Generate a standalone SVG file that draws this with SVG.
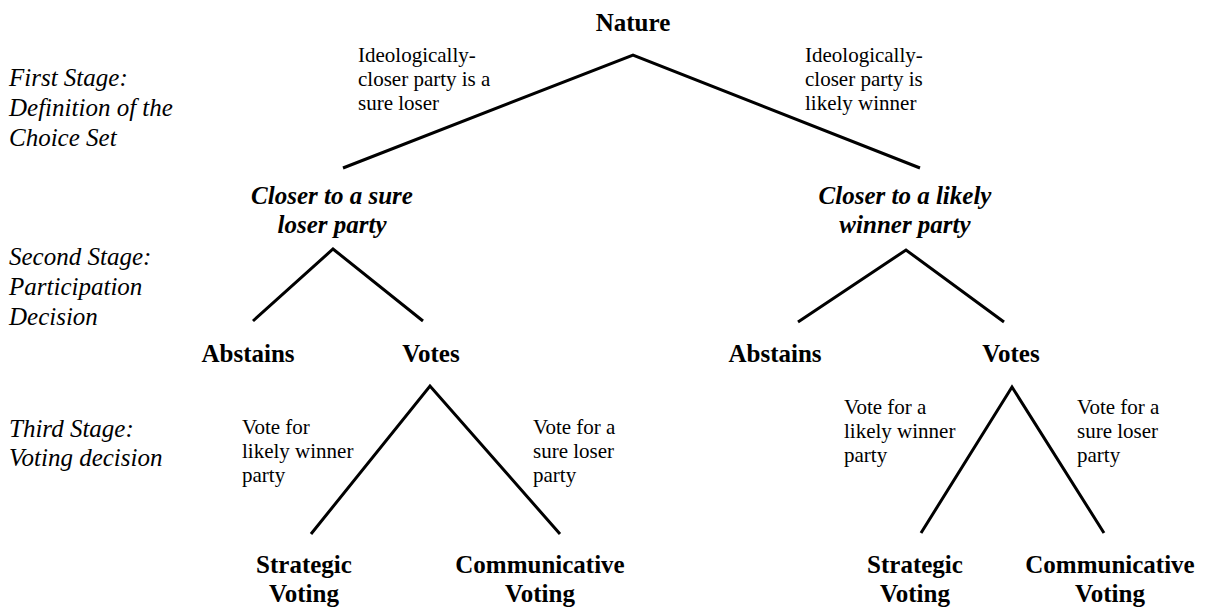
<svg xmlns="http://www.w3.org/2000/svg" width="1209" height="613" viewBox="0 0 1209 613">
<style>
text{font-family:"Liberation Serif","Times New Roman",serif;fill:#000}
.b{font-weight:bold;font-size:25px;text-anchor:middle}
.bi{font-weight:bold;font-style:italic;font-size:25px;text-anchor:middle}
.i{font-style:italic;font-size:25px}
.r{font-size:21px}
.e{stroke:#000;stroke-width:3;fill:none;stroke-linecap:butt;stroke-linejoin:miter}
</style>
<rect width="1209" height="613" fill="#fff"/>
<g id="stages">
<text class="i" x="9" y="86">First Stage:</text>
<text class="i" x="9" y="116">Definition of the</text>
<text class="i" x="9" y="146">Choice Set</text>
<text class="i" x="9" y="265">Second Stage:</text>
<text class="i" x="9" y="295">Participation</text>
<text class="i" x="9" y="325">Decision</text>
<text class="i" x="9" y="437">Third Stage:</text>
<text class="i" x="9" y="466">Voting decision</text>
</g>
<g id="connectors">
<polyline class="e" points="343,168 633,55 920,168"/>
<polyline class="e" points="253,321 333,249 423,321"/>
<polyline class="e" points="798,322 906,250 1004,322"/>
<polyline class="e" points="311,534 430,386 560,534"/>
<polyline class="e" points="921,533 1012,387 1104,533"/>
</g>
<g id="edge-labels">
<text class="r" x="358" y="62">Ideologically-</text>
<text class="r" x="358" y="86">closer party is a</text>
<text class="r" x="358" y="110">sure loser</text>
<text class="r" x="805" y="62">Ideologically-</text>
<text class="r" x="805" y="86">closer party is</text>
<text class="r" x="805" y="110">likely winner</text>
<text class="r" x="242" y="434">Vote for</text>
<text class="r" x="242" y="458">likely winner</text>
<text class="r" x="242" y="482">party</text>
<text class="r" x="533" y="434">Vote for a</text>
<text class="r" x="533" y="458">sure loser</text>
<text class="r" x="533" y="482">party</text>
<text class="r" x="844" y="414">Vote for a</text>
<text class="r" x="844" y="438">likely winner</text>
<text class="r" x="844" y="462">party</text>
<text class="r" x="1077" y="414">Vote for a</text>
<text class="r" x="1077" y="438">sure loser</text>
<text class="r" x="1077" y="462">party</text>
</g>
<g id="nature"><text class="b" x="633" y="31">Nature</text></g>
<g id="closer-loser"><text class="bi" x="332" y="204">Closer to a sure</text><text class="bi" x="332" y="233">loser party</text></g>
<g id="closer-winner"><text class="bi" x="905" y="204">Closer to a likely</text><text class="bi" x="905" y="233">winner party</text></g>
<g id="abstains-1"><text class="b" x="248" y="362">Abstains</text></g>
<g id="votes-1"><text class="b" x="431" y="362">Votes</text></g>
<g id="abstains-2"><text class="b" x="775" y="362">Abstains</text></g>
<g id="votes-2"><text class="b" x="1011" y="362">Votes</text></g>
<g id="strategic-1"><text class="b" x="304" y="573">Strategic</text><text class="b" x="304" y="602">Voting</text></g>
<g id="communicative-1"><text class="b" x="540" y="573">Communicative</text><text class="b" x="540" y="602">Voting</text></g>
<g id="strategic-2"><text class="b" x="915" y="573">Strategic</text><text class="b" x="915" y="602">Voting</text></g>
<g id="communicative-2"><text class="b" x="1110" y="573">Communicative</text><text class="b" x="1110" y="602">Voting</text></g>
</svg>
